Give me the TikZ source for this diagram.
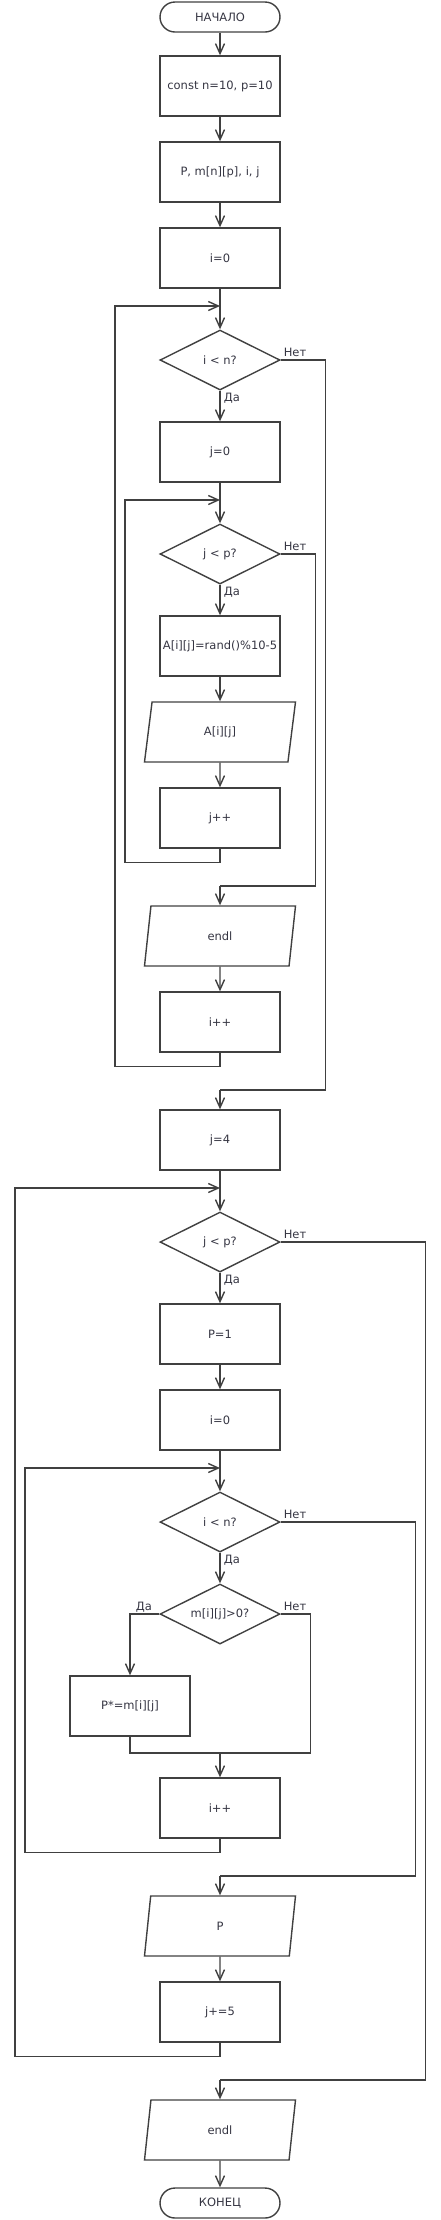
\documentclass[tikz,border=0pt]{standalone}
\usepackage{fontspec}
\setmainfont{DejaVu Sans}
\usetikzlibrary{shapes.geometric,arrows.meta}
\definecolor{lc}{HTML}{404040}
\definecolor{tc}{HTML}{353542}
\newcommand\myfs{\fontsize{11.5}{13}\selectfont}
\tikzset{
  base/.style={draw=lc, line width=1.4pt, text=tc, font=\myfs, inner sep=2pt},
  proc/.style={base, rectangle, minimum width=120pt, minimum height=60pt},
  term/.style={base, rectangle, rounded corners=15pt, minimum width=120pt, minimum height=30pt},
  dec/.style={base, diamond, aspect=2, inner sep=0pt, minimum width=120pt, minimum height=60pt},
  io/.style={base, trapezium, trapezium left angle=63.43, trapezium right angle=116.57,
             trapezium stretches body, minimum width=151pt, minimum height=60pt},
  ln/.style={draw=lc, line width=1.4pt},
  arr/.style={ln, -{Straight Barb[length=10pt,width=9pt]}},
  lbl/.style={text=tc, font=\myfs, inner sep=0pt}
}
\begin{document}
\begin{tikzpicture}[x=1pt,y=-1pt]
\useasboundingbox (0,0) rectangle (440,2220);
% nodes
\node[term] (start) at (220,17) {НАЧАЛО};
\node[proc] (c1) at (220,86) {const n=10, p=10};
\node[proc] (c2) at (220,172) {P, m[n][p], i, j};
\node[proc] (i0a) at (220,258) {i=0};
\node[dec] (d1) at (220,360) {i < n?};
\node[proc] (j0) at (220,452) {j=0};
\node[dec] (d2) at (220,554) {j < p?};
\node[proc] (A) at (220,646) {A[i][j]=rand()\%10-5};
\node[io] (outA) at (220,732) {A[i][j]};
\node[proc] (jpp) at (220,818) {j++};
\node[io] (endla) at (220,936) {endl};
\node[proc] (ippa) at (220,1022) {i++};
\node[proc] (j4) at (220,1140) {j=4};
\node[dec] (d3) at (220,1242) {j < p?};
\node[proc] (p1) at (220,1334) {P=1};
\node[proc] (i0b) at (220,1420) {i=0};
\node[dec] (d4) at (220,1522) {i < n?};
\node[dec] (d5) at (220,1614) {m[i][j]>0?};
\node[proc] (pm) at (130,1706) {P*=m[i][j]};
\node[proc] (ippb) at (220,1808) {i++};
\node[io] (outP) at (220,1926) {P};
\node[proc] (jp5) at (220,2012) {j+=5};
\node[io] (endlb) at (220,2130) {endl};
\node[term] (stop) at (220,2203) {КОНЕЦ};
% junction coordinates
\coordinate (m1) at (220,306);
\coordinate (m2) at (220,500);
\coordinate (m3) at (220,1188);
\coordinate (m4) at (220,1468);
\coordinate (m5) at (220,1753);
\coordinate (e1) at (220,1090);
\coordinate (e2) at (220,886);
\coordinate (e3) at (220,2080);
\coordinate (e4) at (220,1876);
% connectors
\draw[arr] (start) -- (c1);
\draw[arr] (c1) -- (c2);
\draw[arr] (c2) -- (i0a);
\draw[ln] (i0a) -- (m1);
\draw[arr] (m1) -- (d1);
\draw[arr] (d1) -- (j0);
\draw[ln] (j0) -- (m2);
\draw[arr] (m2) -- (d2);
\draw[arr] (d2) -- (A);
\draw[arr] (A) -- (outA);
\draw[arr] (outA) -- (jpp);
\draw[arr] (jpp.south) -- ++(0,14) -- ++(-95,0) |- (m2);
\draw[ln] (d2.east) -- ++(35,0) |- (e2);
\draw[arr] (e2) -- (endla);
\draw[arr] (endla) -- (ippa);
\draw[arr] (ippa.south) -- ++(0,14) -- ++(-105,0) |- (m1);
\draw[ln] (d1.east) -- ++(45,0) |- (e1);
\draw[arr] (e1) -- (j4);
\draw[ln] (j4) -- (m3);
\draw[arr] (m3) -- (d3);
\draw[arr] (d3) -- (p1);
\draw[arr] (p1) -- (i0b);
\draw[ln] (i0b) -- (m4);
\draw[arr] (m4) -- (d4);
\draw[arr] (d4) -- (d5);
\draw[arr] (d5.west) -| (pm.north);
\draw[ln] (d5.east) -- ++(30,0) |- (m5);
\draw[ln] (pm.south) |- (m5);
\draw[arr] (m5) -- (ippb);
\draw[arr] (ippb.south) -- ++(0,14) -- ++(-195,0) |- (m4);
\draw[ln] (d4.east) -- ++(135,0) |- (e4);
\draw[arr] (e4) -- (outP);
\draw[arr] (outP) -- (jp5);
\draw[arr] (jp5.south) -- ++(0,14) -- ++(-205,0) |- (m3);
\draw[ln] (d3.east) -- ++(145,0) |- (e3);
\draw[arr] (e3) -- (endlb);
\draw[arr] (endlb) -- (stop);
% labels
\node[lbl] (l1n) at (295,352) {Нет};
\node[lbl] (l1d) at (232,398) {Да};
\node[lbl] (l2n) at (295,546) {Нет};
\node[lbl] (l2d) at (232,592) {Да};
\node[lbl] (l3n) at (295,1234) {Нет};
\node[lbl] (l3d) at (232,1280) {Да};
\node[lbl] (l4n) at (295,1514) {Нет};
\node[lbl] (l4d) at (232,1560) {Да};
\node[lbl] (l5n) at (295,1606) {Нет};
\node[lbl] (l5d) at (144,1607) {Да};
\end{tikzpicture}
\end{document}
